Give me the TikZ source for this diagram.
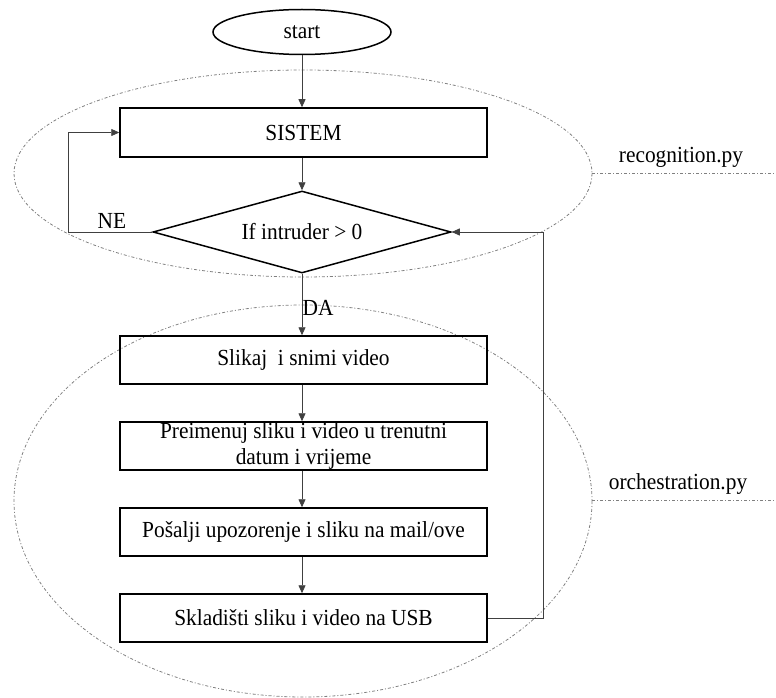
\documentclass[tikz,border=0pt]{standalone}
\usepackage{fontspec}
\setmainfont{Liberation Serif}[FakeStretch=0.93]
\usetikzlibrary{shapes.geometric,arrows.meta}
\tikzset{
  txt/.style={font=\fontsize{23}{26}\selectfont},
  procbox/.style={txt, draw=black, line width=1.5pt, rectangle,
    minimum width=367pt, minimum height=47pt, inner sep=0pt, align=center},
  flow/.style={draw=black!75, line width=0.8pt,
    -{Triangle[length=8pt,width=7pt]}},
  zone/.style={draw=black!50, line width=0.8pt,
    dash pattern=on 3pt off 2pt on 1pt off 2pt},
}
\begin{document}
\begin{tikzpicture}[x=1pt,y=-1pt]
  \useasboundingbox (0,0) rectangle (776,698);

  % module regions
  \draw[zone] (303,173.5) ellipse [x radius=289, y radius=103.5];
  \draw[zone] (303,501) ellipse [x radius=289, y radius=196];
  \draw[zone] (592,173) -- (776,173);
  \draw[zone] (592,500) -- (776,500);
  \node[txt] (recog) at (681,157) {recognition.py};
  \node[txt] (orch) at (678,484) {orchestration.py};

  % flowchart nodes
  \node[txt, draw=black, line width=1.5pt, ellipse, minimum width=178pt,
        minimum height=45pt, inner sep=0pt] (start) at (302,32) {start};
  \node[procbox, minimum height=49pt] (sistem) at (303.5,132.5) {SISTEM};
  \node[txt, draw=black, line width=1.5pt, diamond, aspect=3.63,
        minimum width=298pt, minimum height=82pt, inner sep=0pt] (dec) at (302,232) {If intruder > 0};
  \node[procbox, minimum height=48pt] (slikaj) at (303.5,360) {Slikaj\ \ i snimi video};
  \node[procbox, minimum height=48pt] (preim) at (303.5,446) {Preimenuj sliku i video u trenutni\\datum i vrijeme};
  \node[procbox, minimum height=48pt] (posalji) at (303.5,532) {Pošalji upozorenje i sliku\ na mail/ove};
  \node[procbox, minimum height=48pt] (sklad) at (303.5,618) {Skladišti\ sliku i video na USB};

  % branch labels
  \node[txt] (ne) at (112,221) {NE};
  \node[txt] (da) at (318,308) {DA};

  % turning points of the loops
  \coordinate (noTurn) at (68,232);
  \coordinate (backTurn) at (543,618);

  % connectors
  \draw[flow] (start.south -| dec.north) -- (sistem.north -| dec.north);
  \draw[flow] (sistem.south -| dec.north) -- (dec.north);
  \draw[flow] (dec.west) -- (noTurn) |- (sistem.west);
  \draw[flow] (dec.south) -- (slikaj.north -| dec.south);
  \draw[flow] (slikaj.south -| dec.south) -- (preim.north -| dec.south);
  \draw[flow] (preim.south -| dec.south) -- (posalji.north -| dec.south);
  \draw[flow] (posalji.south -| dec.south) -- (sklad.north -| dec.south);
  \draw[flow] (sklad.east) -- (backTurn) |- (dec.east);
\end{tikzpicture}
\end{document}
